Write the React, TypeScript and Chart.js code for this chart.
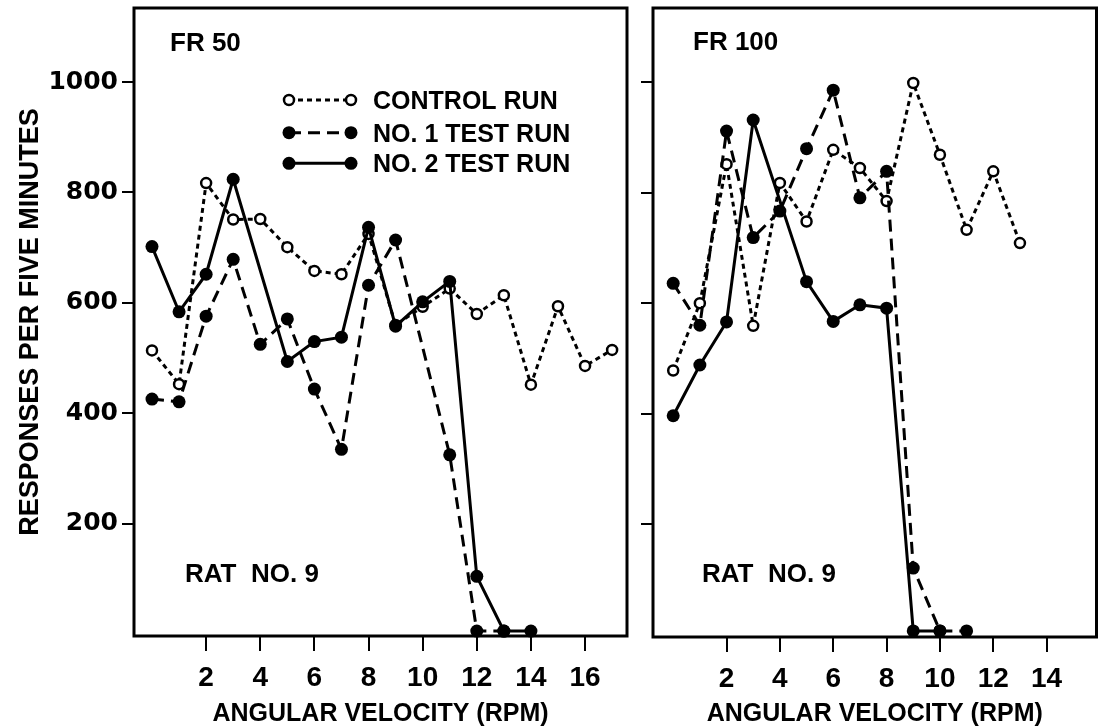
import React, { useEffect, useRef } from "react";
import { Chart, registerables } from "chart.js";

Chart.register(...registerables);

// ---------- DATA ----------
const fr50ControlX = [0, 1, 2, 3, 4, 5, 6, 7, 8, 9, 10, 11, 12, 13, 14, 15, 16, 17];
const fr50ControlY = [514, 453, 817, 751, 752, 701, 658, 652, 725, 560, 593, 626, 580, 614, 452, 594, 486, 515];
const fr50Test1X = [0, 1, 2, 3, 4, 5, 6, 7, 8, 9, 11, 12, 13];
const fr50Test1Y = [426, 421, 576, 679, 525, 571, 444, 335, 632, 714, 325, 6, 6];
const fr50Test2X = [0, 1, 2, 3, 5, 6, 7, 8, 9, 10, 11, 12, 13, 14];
const fr50Test2Y = [702, 584, 652, 824, 494, 530, 538, 737, 558, 602, 639, 105, 6, 6];

const fr100ControlX = [0, 1, 2, 3, 4, 5, 6, 7, 8, 9, 10, 11, 12, 13];
const fr100ControlY = [478, 600, 852, 559, 818, 748, 878, 845, 785, 999, 869, 733, 839, 709];
const fr100Test1X = [0, 1, 2, 3, 4, 5, 6, 7, 8, 9, 10, 11];
const fr100Test1Y = [636, 560, 912, 719, 767, 880, 986, 791, 839, 120, 6, 6];
const fr100Test2X = [0, 1, 2, 3, 5, 6, 7, 8, 9, 10];
const fr100Test2Y = [396, 488, 566, 932, 639, 567, 597, 591, 6, 6];

const yTickValues = [200, 400, 600, 800, 1000];
const fr50XTicks = [2, 4, 6, 8, 10, 12, 14, 16];
const fr100XTicks = [2, 4, 6, 8, 10, 12, 14];

const seriesNames = ["CONTROL RUN", "NO. 1 TEST RUN", "NO. 2 TEST RUN"];
const xTitle = "ANGULAR VELOCITY (RPM)";
const yTitle = "RESPONSES PER FIVE MINUTES";
const ratLabel = "RAT  NO. 9";

// ---------- STYLE ----------
const TEXT_FONT = "'Liberation Sans', Arial, sans-serif";
const NUM_FONT = "'DejaVu Sans', 'Liberation Sans', sans-serif";

const styleControl = {
  borderColor: "#000",
  borderWidth: 3,
  borderDash: [5, 4],
  pointRadius: 5,
  pointBorderWidth: 2.5,
  pointBackgroundColor: "#fff",
  pointBorderColor: "#000",
};
const styleTest1 = {
  borderColor: "#000",
  borderWidth: 3,
  borderDash: [12, 7],
  pointRadius: 6.5,
  pointBorderWidth: 0,
  pointBackgroundColor: "#000",
  pointBorderColor: "#000",
};
const styleTest2 = {
  borderColor: "#000",
  borderWidth: 3,
  borderDash: [] as number[],
  pointRadius: 6.5,
  pointBorderWidth: 0,
  pointBackgroundColor: "#000",
  pointBorderColor: "#000",
};

function pts(xs: number[], ys: number[]) {
  return xs.map((x, i) => ({ x, y: ys[i] }));
}

type Panel = {
  control: { x: number; y: number }[];
  test1: { x: number; y: number }[];
  test2: { x: number; y: number }[];
  xMin: number;
  xMax: number;
  yMin: number;
  yMax: number;
  xTicks: number[];
  yLabels: boolean;
  yAxisWidth: number;
  xAxisHeight: number;
  padding: { top: number; right: number; left: number; bottom: number };
  name: string;
  nameDx: number;
  nameBaseline: number;
  ratDx: number;
  ratBaseline: number;
  legend: boolean;
};

const leftPanel: Panel = {
  control: pts(fr50ControlX, fr50ControlY),
  test1: pts(fr50Test1X, fr50Test1Y),
  test2: pts(fr50Test2X, fr50Test2Y),
  xMin: -0.665,
  xMax: 17.55,
  yMin: -3,
  yMax: 1134,
  xTicks: fr50XTicks,
  yLabels: true,
  yAxisWidth: 134,
  xAxisHeight: 92,
  padding: { top: 8, right: 13, left: 0, bottom: 0 },
  name: "FR 50",
  nameDx: 36,
  nameBaseline: 51,
  ratDx: 51,
  ratBaseline: 582,
  legend: true,
};

const rightPanel: Panel = {
  control: pts(fr100ControlX, fr100ControlY),
  test1: pts(fr100Test1X, fr100Test1Y),
  test2: pts(fr100Test2X, fr100Test2Y),
  xMin: -0.757,
  xMax: 15.87,
  yMin: -5,
  yMax: 1135,
  xTicks: fr100XTicks,
  yLabels: false,
  yAxisWidth: 15,
  xAxisHeight: 91,
  padding: { top: 8, right: 3, left: 0, bottom: 0 },
  name: "FR 100",
  nameDx: 40,
  nameBaseline: 50,
  ratDx: 49,
  ratBaseline: 582,
  legend: false,
};

function drawMarker(ctx: CanvasRenderingContext2D, x: number, y: number, st: any) {
  ctx.save();
  ctx.setLineDash([]);
  ctx.beginPath();
  ctx.arc(x, y, st.pointRadius, 0, Math.PI * 2);
  ctx.fillStyle = st.pointBackgroundColor;
  ctx.fill();
  if (st.pointBorderWidth > 0) {
    ctx.lineWidth = st.pointBorderWidth;
    ctx.strokeStyle = st.pointBorderColor;
    ctx.stroke();
  }
  ctx.restore();
}

function makePlugin(panel: Panel) {
  return {
    id: "panelDecor",
    afterDraw(chart: any) {
      const { ctx, chartArea } = chart;
      const { left, top, right, bottom } = chartArea;
      ctx.save();
      // frame
      ctx.strokeStyle = "#000";
      ctx.lineWidth = 3;
      ctx.setLineDash([]);
      ctx.strokeRect(left, top, right - left, bottom - top);

      ctx.fillStyle = "#000";
      ctx.textBaseline = "alphabetic";
      ctx.textAlign = "left";
      ctx.font = `bold 26px ${TEXT_FONT}`;
      ctx.fillText(panel.name, left + panel.nameDx, panel.nameBaseline);
      ctx.fillText(ratLabel, left + panel.ratDx, panel.ratBaseline);

      if (panel.legend) {
        const rows = [
          { st: styleControl, dy: 92 },
          { st: styleTest1, dy: 124.7 },
          { st: styleTest2, dy: 155.3 },
        ];
        const x1 = left + 155;
        const x2 = left + 217;
        const tx = left + 239;
        rows.forEach((r, i) => {
          const y = top + r.dy;
          ctx.save();
          ctx.strokeStyle = "#000";
          ctx.lineWidth = r.st.borderWidth;
          ctx.setLineDash(r.st.borderDash);
          ctx.beginPath();
          ctx.moveTo(x1, y);
          ctx.lineTo(x2, y);
          ctx.stroke();
          ctx.restore();
          drawMarker(ctx, x1, y, r.st);
          drawMarker(ctx, x2, y, r.st);
          ctx.fillStyle = "#000";
          ctx.font = `bold 25px ${TEXT_FONT}`;
          ctx.fillText(seriesNames[i], tx, y + 9);
        });
      }
      ctx.restore();
    },
  };
}

function buildConfig(panel: Panel): any {
  return {
    type: "scatter",
    data: {
      datasets: [
        { label: seriesNames[2], data: panel.test2, showLine: true, clip: false, ...styleTest2 },
        { label: seriesNames[1], data: panel.test1, showLine: true, clip: false, ...styleTest1 },
        { label: seriesNames[0], data: panel.control, showLine: true, clip: false, ...styleControl },
      ],
    },
    options: {
      animation: false,
      responsive: true,
      maintainAspectRatio: false,
      events: [],
      layout: { padding: panel.padding },
      plugins: {
        legend: { display: false },
        tooltip: { enabled: false },
        title: { display: false },
      },
      scales: {
        x: {
          type: "linear",
          position: "bottom",
          min: panel.xMin,
          max: panel.xMax,
          afterBuildTicks: (scale: any) => {
            scale.ticks = panel.xTicks.map((v) => ({ value: v }));
          },
          afterFit: (scale: any) => {
            scale.height = panel.xAxisHeight;
            scale.paddingLeft = 0;
            scale.paddingRight = 0;
          },
          border: { display: false },
          grid: {
            drawOnChartArea: false,
            drawTicks: true,
            tickLength: 15,
            color: "#000",
            lineWidth: 2,
          },
          ticks: {
            autoSkip: false,
            maxRotation: 0,
            padding: 10,
            color: "#000",
            font: { family: TEXT_FONT, size: 28, weight: "bold" },
            callback: (v: any) => String(v),
          },
          title: {
            display: true,
            text: xTitle,
            color: "#000",
            font: { family: TEXT_FONT, size: 25, weight: "bold", lineHeight: 1 },
            padding: { top: 0, bottom: 1 },
          },
        },
        y: {
          type: "linear",
          position: "left",
          min: panel.yMin,
          max: panel.yMax,
          afterBuildTicks: (scale: any) => {
            scale.ticks = yTickValues.map((v) => ({ value: v }));
          },
          afterFit: (scale: any) => {
            scale.width = panel.yAxisWidth;
            scale.paddingTop = 0;
            scale.paddingBottom = 0;
          },
          border: { display: false },
          grid: {
            drawOnChartArea: false,
            drawTicks: true,
            tickLength: 12,
            color: "#000",
            lineWidth: 2,
          },
          ticks: {
            display: panel.yLabels,
            padding: 4,
            color: "#000",
            font: { family: NUM_FONT, size: 25, weight: "bold" },
            callback: (v: any) => String(v),
          },
          title: {
            display: panel.yLabels,
            text: yTitle,
            color: "#000",
            font: { family: TEXT_FONT, size: 27, weight: "bold", lineHeight: 1 },
            padding: { top: 17, bottom: 0 },
          },
        },
      },
    },
    plugins: [makePlugin(panel)],
  };
}

export default function App() {
  const leftRef = useRef<HTMLCanvasElement>(null);
  const rightRef = useRef<HTMLCanvasElement>(null);

  useEffect(() => {
    const c1 = new Chart(leftRef.current as HTMLCanvasElement, buildConfig(leftPanel));
    const c2 = new Chart(rightRef.current as HTMLCanvasElement, buildConfig(rightPanel));
    return () => {
      c1.destroy();
      c2.destroy();
    };
  }, []);

  return (
    <div style={{ position: "absolute", left: 0, top: 0, width: 1104, height: 728, background: "#fff" }}>
      <div style={{ position: "absolute", left: 0, top: 0, width: 640, height: 728 }}>
        <canvas ref={leftRef} />
      </div>
      <div style={{ position: "absolute", left: 638, top: 0, width: 466, height: 728 }}>
        <canvas ref={rightRef} />
      </div>
    </div>
  );
}
